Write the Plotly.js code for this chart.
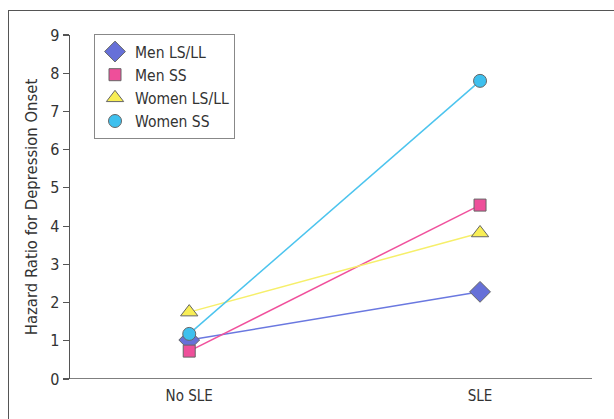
<!DOCTYPE html>
<html>
<head>
<meta charset="utf-8">
<script src="https://cdn.plot.ly/plotly-3.0.1.min.js"></script>
<style>
html,body{margin:0;padding:0;background:#fff;}
#frame{position:absolute;left:8px;top:10px;width:620px;height:440px;border-left:1.5px solid #555;border-top:1.5px solid #555;}
#chart{position:absolute;left:0;top:0;width:614px;height:419px;}
</style>
</head>
<body>
<div id="frame"></div>
<div id="chart"></div>
<script>
var categories = ["No SLE", "SLE"];
var seriesNames = ["Men LS/LL", "Men SS", "Women LS/LL", "Women SS"];
var menLSLL = [1.02, 2.28];
var menSS = [0.73, 4.55];
var womenLSLL = [1.75, 3.82];
var womenSS = [1.18, 7.8];
var yTicks = [0, 1, 2, 3, 4, 5, 6, 7, 8, 9];

var FONT = '"DejaVu Sans Condensed", "Liberation Sans Narrow", Arial, sans-serif';

var specs = [
  {name: seriesNames[0], vals: menLSLL, sym: 'diamond', size: 16, fill: '#6670d8', line: '#6a78e0'},
  {name: seriesNames[1], vals: menSS, sym: 'square', size: 12, fill: '#ee4f9a', line: '#f0509c'},
  {name: seriesNames[2], vals: womenLSLL, sym: 'triangle-up', size: 15, fill: '#f8ee55', line: '#f6ef6a'},
  {name: seriesNames[3], vals: womenSS, sym: 'circle', size: 13, fill: '#3ec0ee', line: '#4cc4ee'}
];

var data = [];
specs.forEach(function (s) {
  data.push({
    x: categories, y: s.vals, type: 'scatter', mode: 'lines', showlegend: false,
    line: {color: s.line, width: 1.5}, hoverinfo: 'none'
  });
});
specs.forEach(function (s) {
  data.push({
    x: categories, y: s.vals, name: s.name, type: 'scatter', mode: 'markers',
    marker: {symbol: s.sym, size: s.size, color: s.fill, line: {color: '#666', width: 1}},
    hoverinfo: 'none'
  });
});

var layout = {
  width: 614, height: 419,
  margin: {l: 70, r: 22, t: 35, b: 40},
  paper_bgcolor: 'rgba(0,0,0,0)', plot_bgcolor: 'rgba(0,0,0,0)',
  font: {family: FONT, color: '#333', size: 14},
  showlegend: true,
  legend: {
    x: 0.046, y: 1.003, xanchor: 'left', yanchor: 'top',
    bgcolor: '#fff', bordercolor: '#888', borderwidth: 1,
    font: {family: FONT, size: 15.5, color: '#333'},
    traceorder: 'normal', itemwidth: 30
  },
  xaxis: {
    type: 'category', range: [-0.41, 1.385],
    showgrid: false, zeroline: false, showline: false,
    ticks: '', ticklabelstandoff: 6,
    tickfont: {family: FONT, size: 15, color: '#333'}
  },
  yaxis: {
    range: [0, 9], tickvals: yTicks, ticktext: yTicks.map(String),
    showgrid: false, zeroline: false, showline: true, linecolor: '#555', linewidth: 1.5,
    ticks: 'outside', ticklen: 6, tickcolor: '#555', tickwidth: 1.2,
    tickfont: {family: FONT, size: 16, color: '#333'},
    title: {text: 'Hazard Ratio for Depression Onset', font: {family: FONT, size: 16.5, color: '#333'}, standoff: 8}
  },
  shapes: [
    {type: 'line', xref: 'paper', yref: 'y', x0: 0, x1: 1, y0: 0, y1: 0, line: {color: '#555', width: 1.5}}
  ]
};

Plotly.newPlot('chart', data, layout, {displayModeBar: false, staticPlot: true});
</script>
</body>
</html>
